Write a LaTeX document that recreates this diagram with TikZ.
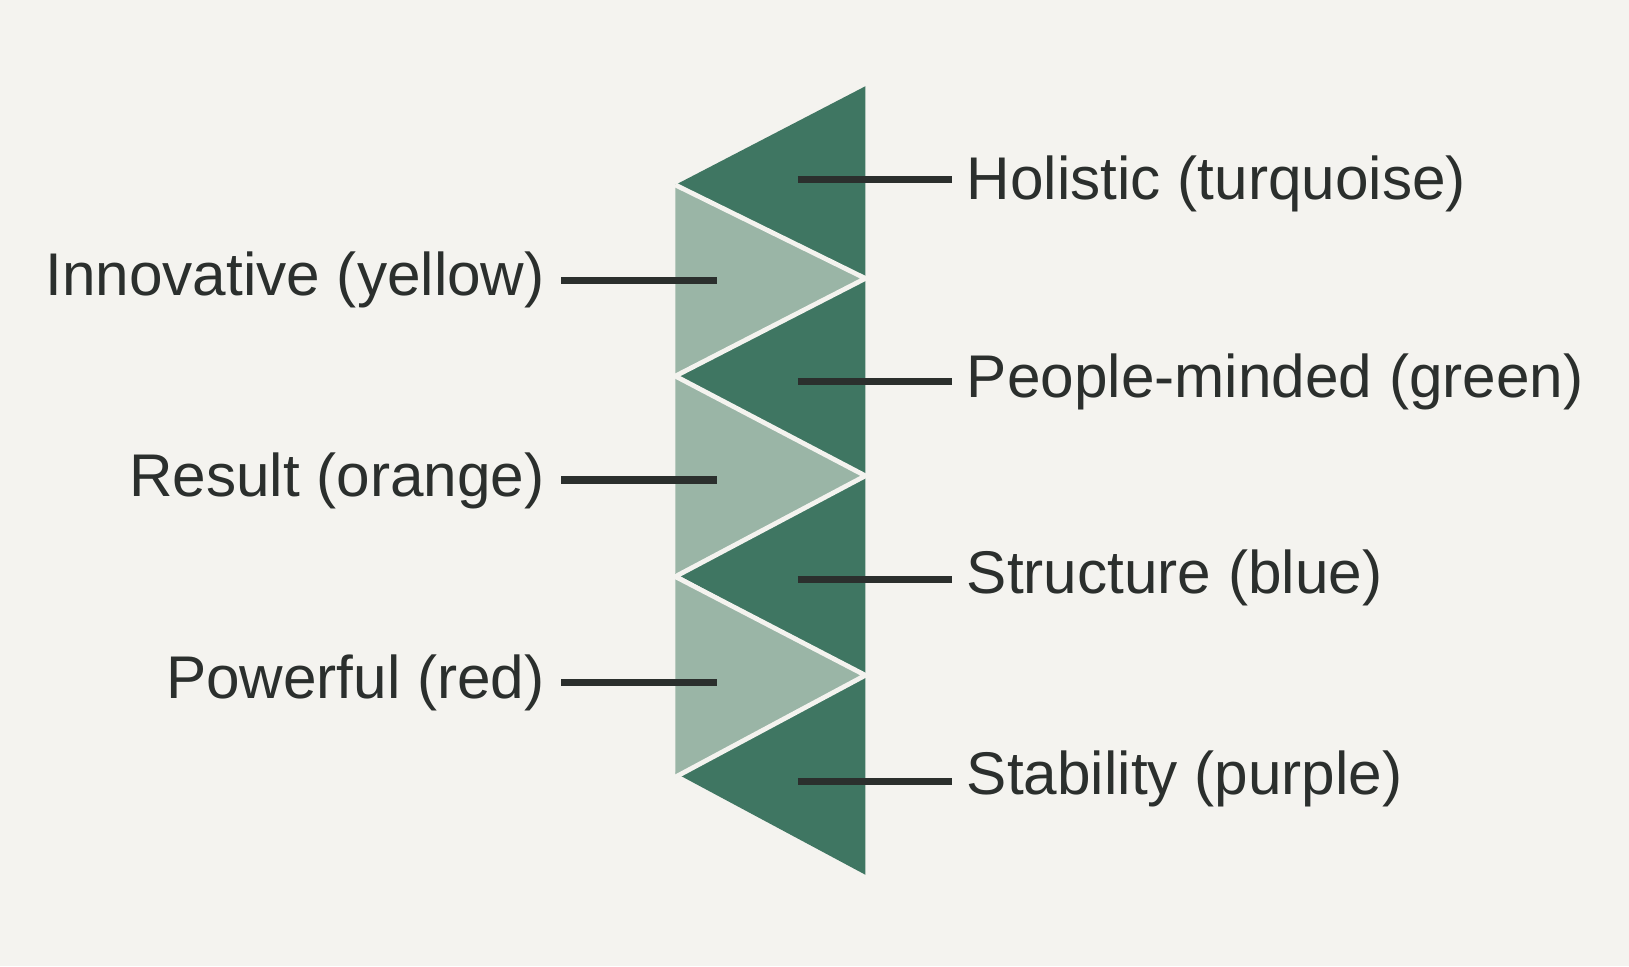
\documentclass[tikz,border=0pt]{standalone}
\usepackage{fontspec}
\setmainfont{Liberation Sans}
\usetikzlibrary{positioning}
\definecolor{bg}{HTML}{F4F3EF}
\definecolor{darkgreen}{HTML}{3F7662}
\definecolor{lightgreen}{HTML}{9AB5A6}
\definecolor{ink}{HTML}{2B2F2D}
\begin{document}
\begin{tikzpicture}[x=0.01cm,y=-0.01cm,
  label/.style={font=\fontsize{16.5}{18}\selectfont, text=ink, inner sep=0pt},
  lead/.style={draw=ink, line width=2pt},
  seg/.style={draw=bg, line width=1.3pt, line join=round}]
  \fill[bg] (0,0) rectangle (1568,930);
  \useasboundingbox (0,0) rectangle (1568,930);
  % dark triangles
  \foreach \t in {83,268,458,650}
    \fill[darkgreen] (833,\t) -- (650,{\t+(\t==83?95:94)}) -- (833,{\t+(\t==83?185:(\t==268?190:(\t==458?192:192)))}) -- cycle;
  % light triangles
  \fill[lightgreen] (650,178) -- (833,268) -- (650,362) -- cycle;
  \fill[lightgreen] (650,362) -- (833,458) -- (650,555) -- cycle;
  \fill[lightgreen] (650,555) -- (833,650) -- (650,748) -- cycle;
  % white zigzag
  \draw[seg] (650,178) -- (833,268) -- (650,362) -- (833,458) -- (650,555) -- (833,650) -- (650,748);
  % right labels
  \node[label, anchor=west] (holistic) at (930,177) {Holistic (turquoise)};
  \node[label, anchor=west] (people) at (930,368) {People-minded (green)};
  \node[label, anchor=west] (structure) at (930,556) {Structure (blue)};
  \node[label, anchor=west] (stability) at (930,750) {Stability (purple)};
  % left labels
  \node[label, anchor=east] (innovative) at (525,269) {Innovative (yellow)};
  \node[label, anchor=east] (result) at (525,463) {Result (orange)};
  \node[label, anchor=east] (powerful) at (525,657) {Powerful (red)};
  \foreach \n/\y in {holistic/173,people/367,structure/558,stability/752}{
    \coordinate (\n-in) at (768,\y);
    \draw[lead] (\n-in) -- (916,\y);
  }
  \foreach \n/\y in {innovative/270,result/462,powerful/657}{
    \coordinate (\n-in) at (690,\y);
    \draw[lead] (540,\y) -- (\n-in);
  }
\end{tikzpicture}
\end{document}
